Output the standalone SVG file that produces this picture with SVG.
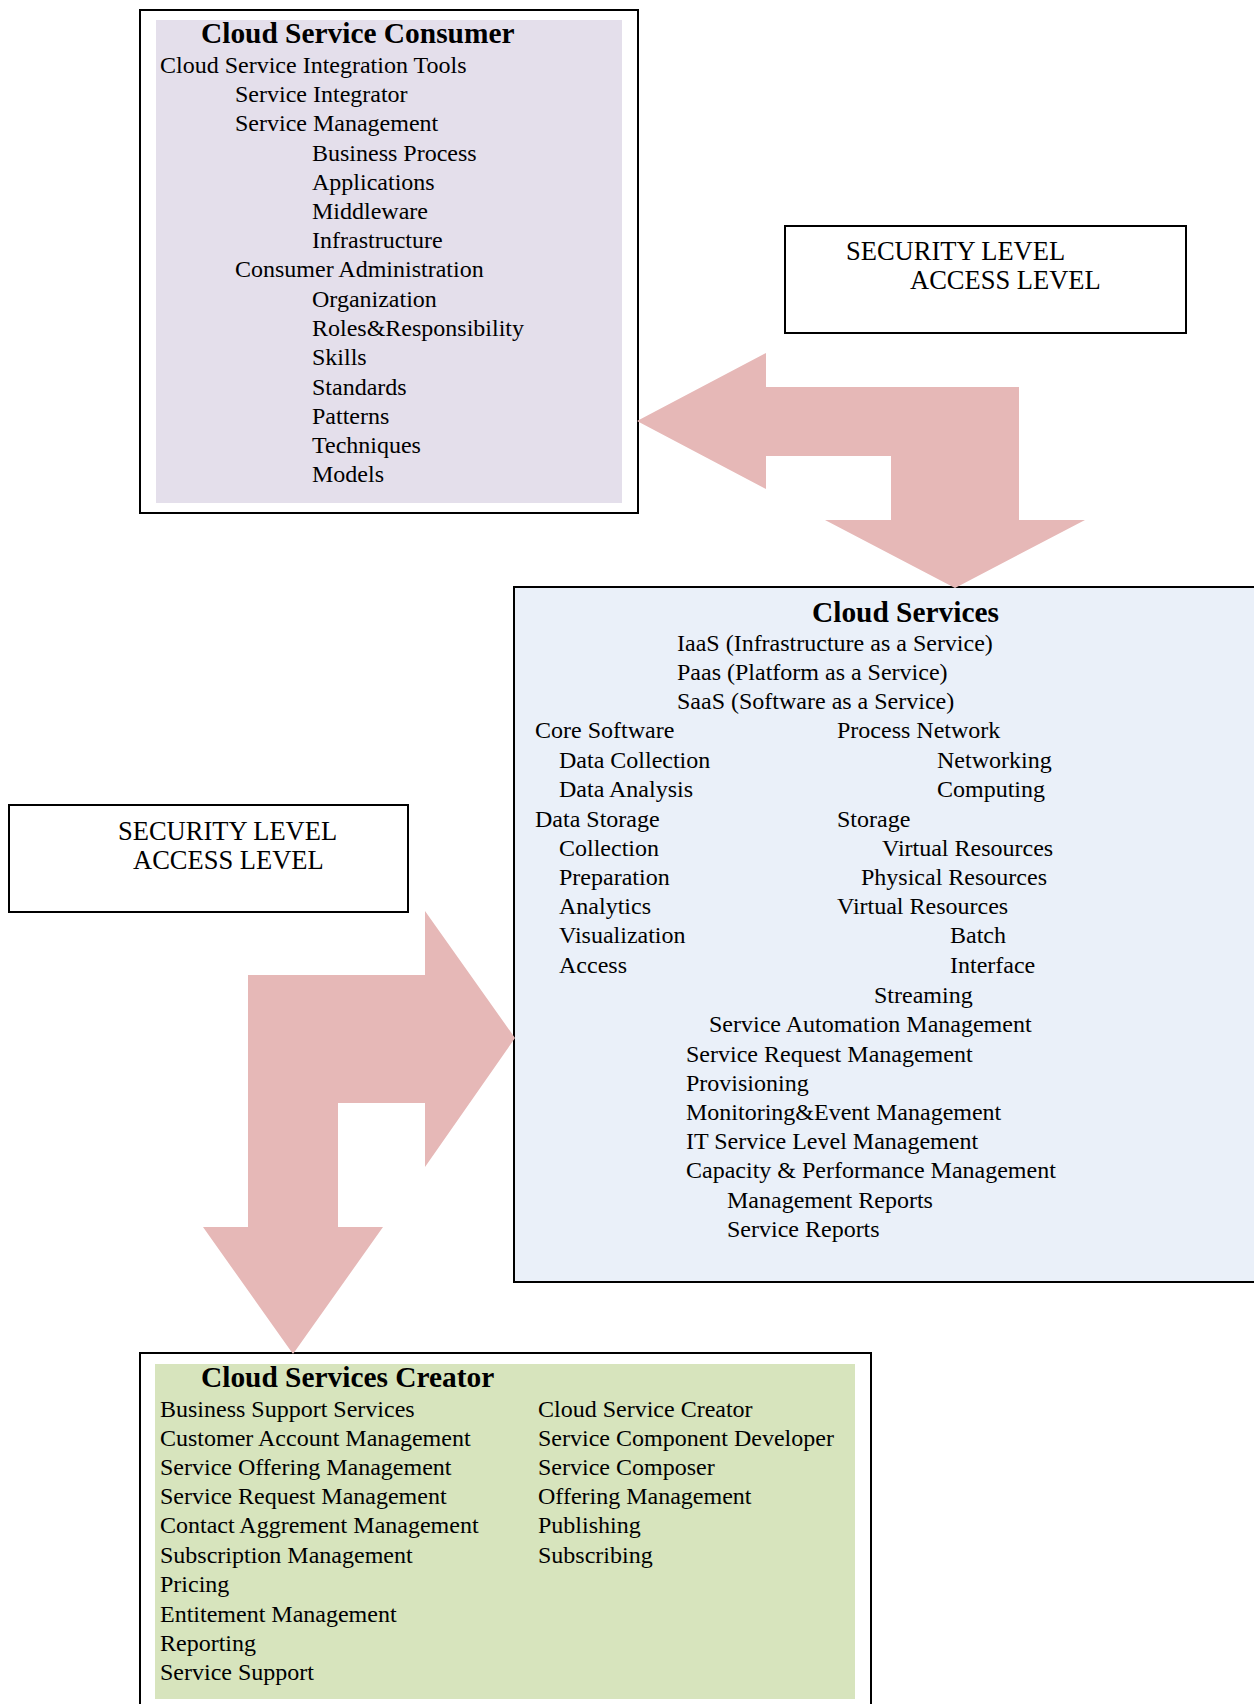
<svg xmlns="http://www.w3.org/2000/svg" width="1254" height="1704" viewBox="0 0 1254 1704">
<style>
.box{fill:#ffffff;stroke:#000000;stroke-width:2}
.t{font-family:"Liberation Serif","Times New Roman",serif;font-size:24px;fill:#000000}
.h{font-family:"Liberation Serif","Times New Roman",serif;font-size:29.4px;font-weight:bold;fill:#000000}
.s{font-family:"Liberation Serif","Times New Roman",serif;font-size:26.5px;fill:#000000}
.arrow{fill:#e6b8b7;stroke:none}
</style>
<rect x="0" y="0" width="1254" height="1704" fill="#ffffff"/>

<g id="consumer">
<rect class="box" x="140" y="10" width="498" height="503"/>
<rect x="156" y="20" width="466" height="483" fill="#e4dfeb"/>
<text class="h" x="201" y="43">Cloud Service Consumer</text>
<text class="t" x="160" y="73">Cloud Service Integration Tools</text>
<text class="t" x="235" y="102">Service Integrator</text>
<text class="t" x="235" y="131">Service Management</text>
<text class="t" x="312" y="161">Business Process</text>
<text class="t" x="312" y="190">Applications</text>
<text class="t" x="312" y="219">Middleware</text>
<text class="t" x="312" y="248">Infrastructure</text>
<text class="t" x="235" y="277">Consumer Administration</text>
<text class="t" x="312" y="307">Organization</text>
<text class="t" x="312" y="336">Roles&amp;Responsibility</text>
<text class="t" x="312" y="365">Skills</text>
<text class="t" x="312" y="395">Standards</text>
<text class="t" x="312" y="424">Patterns</text>
<text class="t" x="312" y="453">Techniques</text>
<text class="t" x="312" y="482">Models</text>
</g>

<g id="security-top">
<rect class="box" x="785" y="226" width="401" height="107"/>
<text class="s" x="846" y="260">SECURITY LEVEL</text>
<text class="s" x="910" y="289">ACCESS LEVEL</text>
</g>

<g id="cloud-services">
<rect x="514" y="587" width="750" height="695" fill="#eaf0f9" stroke="#000000" stroke-width="2"/>
<text class="h" x="812" y="622">Cloud Services</text>
<text class="t" x="677" y="651">IaaS (Infrastructure as a Service)</text>
<text class="t" x="677" y="680">Paas (Platform as a Service)</text>
<text class="t" x="677" y="709">SaaS (Software as a Service)</text>
<text class="t" x="535" y="738">Core Software</text>
<text class="t" x="837" y="738">Process Network</text>
<text class="t" x="559" y="768">Data Collection</text>
<text class="t" x="937" y="768">Networking</text>
<text class="t" x="559" y="797">Data Analysis</text>
<text class="t" x="937" y="797">Computing</text>
<text class="t" x="535" y="827">Data Storage</text>
<text class="t" x="837" y="827">Storage</text>
<text class="t" x="559" y="856">Collection</text>
<text class="t" x="882" y="856">Virtual Resources</text>
<text class="t" x="559" y="885">Preparation</text>
<text class="t" x="861" y="885">Physical Resources</text>
<text class="t" x="559" y="914">Analytics</text>
<text class="t" x="837" y="914">Virtual Resources</text>
<text class="t" x="559" y="943">Visualization</text>
<text class="t" x="950" y="943">Batch</text>
<text class="t" x="559" y="973">Access</text>
<text class="t" x="950" y="973">Interface</text>
<text class="t" x="874" y="1003">Streaming</text>
<text class="t" x="709" y="1032">Service Automation Management</text>
<text class="t" x="686" y="1062">Service Request Management</text>
<text class="t" x="686" y="1091">Provisioning</text>
<text class="t" x="686" y="1120">Monitoring&amp;Event Management</text>
<text class="t" x="686" y="1149">IT Service Level Management</text>
<text class="t" x="686" y="1178">Capacity &amp; Performance Management</text>
<text class="t" x="727" y="1208">Management Reports</text>
<text class="t" x="727" y="1237">Service Reports</text>
</g>

<g id="security-left">
<rect class="box" x="9" y="805" width="399" height="107"/>
<text class="s" x="118" y="840">SECURITY LEVEL</text>
<text class="s" x="133" y="869">ACCESS LEVEL</text>
</g>

<g id="creator">
<rect x="140" y="1353" width="731" height="360" fill="#ffffff" stroke="#000000" stroke-width="2"/>
<rect x="155" y="1364" width="700" height="335" fill="#d7e4bd"/>
<text class="h" x="201" y="1387">Cloud Services Creator</text>
<text class="t" x="160" y="1417">Business Support Services</text>
<text class="t" x="160" y="1446">Customer Account Management</text>
<text class="t" x="160" y="1475">Service Offering Management</text>
<text class="t" x="160" y="1504">Service Request Management</text>
<text class="t" x="160" y="1533">Contact Aggrement Management</text>
<text class="t" x="160" y="1563">Subscription Management</text>
<text class="t" x="160" y="1592">Pricing</text>
<text class="t" x="160" y="1622">Entitement Management</text>
<text class="t" x="160" y="1651">Reporting</text>
<text class="t" x="160" y="1680">Service Support</text>
<text class="t" x="538" y="1417">Cloud Service Creator</text>
<text class="t" x="538" y="1446">Service Component Developer</text>
<text class="t" x="538" y="1475">Service Composer</text>
<text class="t" x="538" y="1504">Offering Management</text>
<text class="t" x="538" y="1533">Publishing</text>
<text class="t" x="538" y="1563">Subscribing</text>
</g>

<g id="connectors">
<polygon class="arrow" points="637,421 766,353 766,387 1019,387 1019,520 1085,520 955,588 825,520 891,520 891,456 766,456 766,489"/>
<polygon class="arrow" points="515,1038 425,911 425,975 248,975 248,1227 203,1227 293,1354 383,1227 338,1227 338,1103 425,1103 425,1167"/>
</g>
</svg>
